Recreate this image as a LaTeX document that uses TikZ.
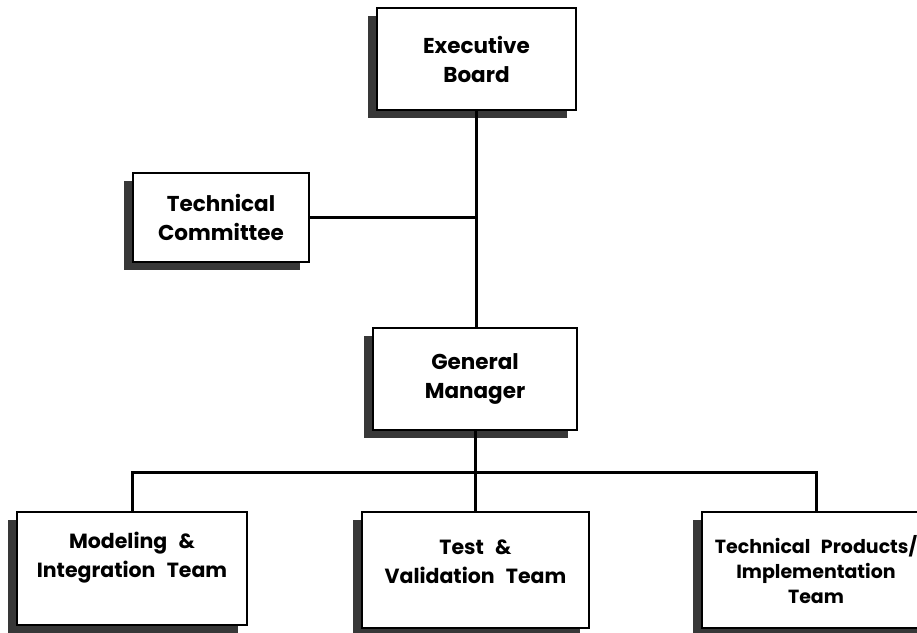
\documentclass[tikz,border=0pt]{standalone}
\usepackage{fontspec}
\setmainfont{Poppins}
\usetikzlibrary{shadows}
\newcommand{\wgap}{\hspace{0.55em}}
\begin{document}
\begin{tikzpicture}[x=1pt,y=-1pt,
  box/.style={draw=black, line width=2.2pt, fill=white, align=center, inner sep=0pt,
    drop shadow={shadow xshift=-9pt, shadow yshift=-8pt, fill=black!78, opacity=1}},
  bigtext/.style={font=\fontsize{21.5}{29}\selectfont\bfseries},
  smalltext/.style={font=\fontsize{20.5}{29}\selectfont\bfseries},
  conn/.style={line width=3pt, line cap=rect}]
\useasboundingbox (0,0) rectangle (917,632);
\node[box, bigtext, minimum width=199pt, minimum height=102pt] (eb) at (476.5,59) {Executive\\Board};
\node[box, bigtext, minimum width=176pt, minimum height=89pt] (tc) at (221,217.5) {Technical\\Committee};
\node[box, bigtext, minimum width=204pt, minimum height=102pt] (gm) at (475,379) {General\\Manager};
\node[box, smalltext, minimum width=230pt, minimum height=113pt] (mi) at (132,568.5) {\begin{tabular}{@{}c@{}}Modeling\wgap\&\\Integration\wgap Team\end{tabular}\rule[-46pt]{0pt}{0pt}};
\node[box, smalltext, minimum width=227pt, minimum height=116pt] (tv) at (475.5,570) {\begin{tabular}{@{}c@{}}Test\wgap\&\\Validation\wgap Team\end{tabular}\rule[-37pt]{0pt}{0pt}};
\node[box, font=\fontsize{19}{25}\selectfont\bfseries, minimum width=228pt, minimum height=116pt] (tp) at (816,570) {Technical\wgap Products/\\Implementation\\Team};
\coordinate (bus) at (475,472);
\draw[conn] (eb.south) -- (eb.south |- gm.north);
\draw[conn] (tc.east) -- (tc.east -| eb.south);
\draw[conn] (gm.south) -- (gm.south |- tv.north);
\draw[conn] (mi.north) -- (mi.north |- bus) -| (tp.north);
\end{tikzpicture}
\end{document}
